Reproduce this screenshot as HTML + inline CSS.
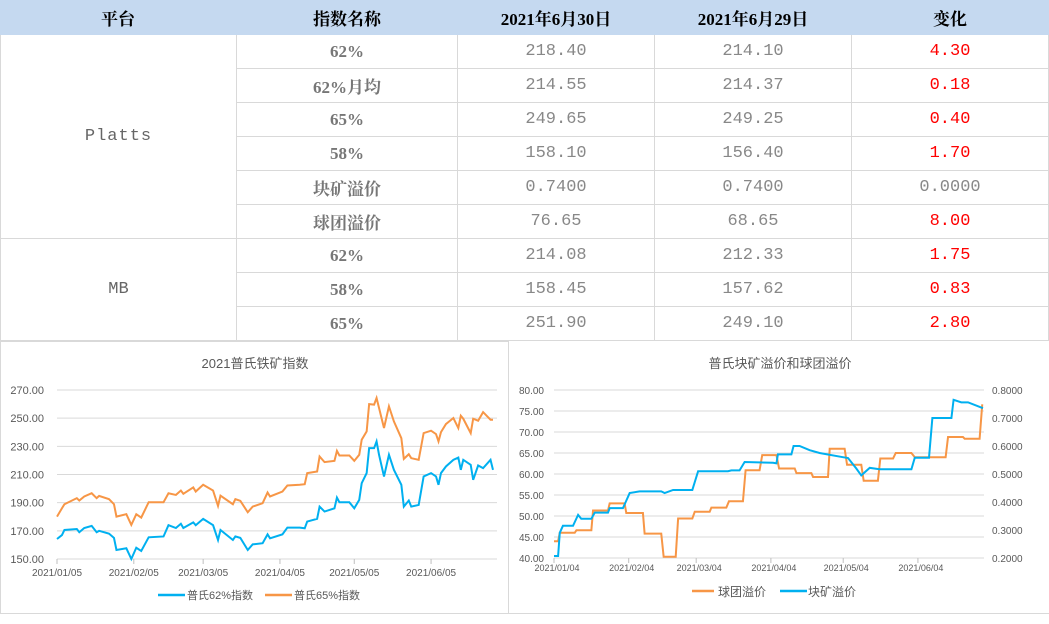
<!DOCTYPE html>
<html><head><meta charset="utf-8">
<style>
body{margin:0;width:1049px;height:624px;background:#fff;overflow:hidden;position:relative;font-family:"Liberation Serif","Noto Serif CJK SC",serif}
.c{position:absolute;box-sizing:border-box;border-right:1px solid #d9d9d9;border-bottom:1px solid #d9d9d9;display:flex;align-items:center;justify-content:center;font-size:17px}
.h{background:#c5d9f0;font-weight:bold;color:#000;border-color:#c5d9f0;font-family:"Liberation Serif","Noto Serif CJK SC",serif}
.n{color:#777;font-weight:bold}
.v{color:#888;font-family:"Liberation Mono","Noto Sans CJK SC",monospace;font-size:17px}
.r{color:#f00;font-family:"Liberation Mono","Noto Sans CJK SC",monospace;font-size:17px}
.p{color:#666;font-family:"Liberation Mono",monospace;font-size:17px}
svg{position:absolute;font-family:"Liberation Sans","Noto Sans CJK SC",sans-serif}
</style></head><body>
<div id="tbl"></div>
<svg id="ch1" style="left:0;top:341px" width="510" height="273"></svg>
<svg id="ch2" style="left:510px;top:341px" width="539" height="273"></svg>
<div style="position:absolute;left:0;top:613px;width:1049px;height:1px;background:#d9d9d9"></div>
<script>
const cols=[0,237,458,655,852,1049];
const head=["平台","指数名称","2021年6月30日","2021年6月29日","变化"];
const names=["62%","62%月均","65%","58%","块矿溢价","球团溢价","62%","58%","65%"];
const v30=["218.40","214.55","249.65","158.10","0.7400","76.65","214.08","158.45","251.90"];
const v29=["214.10","214.37","249.25","156.40","0.7400","68.65","212.33","157.62","249.10"];
const chg=["4.30","0.18","0.40","1.70","0.0000","8.00","1.75","0.83","2.80"];
const rowsY=[0,35,69,103,137,171,205,239,273,307,341];
const T=document.getElementById('tbl');
function cell(x,y,w,h,cls,txt,name){const d=document.createElement('div');d.className='c '+cls;d.style.left=x+'px';d.style.top=y+'px';d.style.width=w+'px';d.style.height=h+'px';d.textContent=txt;


T.appendChild(d);return d;}
head.forEach((t,i)=>cell(cols[i],0,cols[i+1]-cols[i],35,'h',t,'header-'+i));
const pl=cell(0,35,237,204,'p','Platts','platform-platts');pl.style.borderLeft='1px solid #d9d9d9';pl.style.letterSpacing='1px';
const mb=cell(0,239,237,102,'p','MB','platform-mb');mb.style.borderLeft='1px solid #d9d9d9';
for(let i=0;i<9;i++){const y=rowsY[i+1],h=rowsY[i+2]-y;
cell(237,y,221,h,'n',names[i],'index-name');
cell(458,y,197,h,'v',v30[i],'value-0630');
cell(655,y,197,h,'v',v29[i],'value-0629');
cell(852,y,197,h,chg[i]==="0.0000"?'v':'r',chg[i],'change-value');}
const NS='http://www.w3.org/2000/svg';
function el(svg,tag,attrs,txt){const e=document.createElementNS(NS,tag);for(const k in attrs)e.setAttribute(k,attrs[k]);if(txt!==undefined)e.textContent=txt;svg.appendChild(e);return e;}

// Chart 1 data
const days1=[0,2,3,8,9,11,14,16,17,21,23,24,28,30,32,34,37,43,45,48,50,51,55,56,59,63,65,66,71,72,74,77,79,83,85,86,91,93,98,100,101,105,106,108,112,113,114,118,120,122,123,125,126,128,129,130,132,134,136,139,140,142,143,146,148,151,153,154,155,157,160,162,163,164,167,168,170,172,175,176];
const s62=[164.2,167,170.6,171.3,169,172,173.5,169,170,168,165,156.4,157.6,150,158,155.7,165.4,166,174,172,175,172,176,174,178.5,174,163.5,170.6,163.5,166,165,156.4,160.4,161.2,167.5,164.7,167.5,172.3,172.3,171.8,176.6,178.5,187.2,183.7,186,193.6,190.3,190.3,186,192,203.8,211,228.7,228.7,233.5,224,208.6,224,213.3,202.7,187.2,191.5,187.2,188.4,208.6,211,208.6,202.7,211,215.7,220.4,222,213.3,220.4,216.9,206.2,216.4,214.5,220.4,213.3];
const s65=[180.1,186,188.9,193.2,191.5,194.4,196.7,193.2,194.8,192.5,188.9,180.1,181.8,174.2,181.8,179.4,190.3,190.3,196.7,195.5,198.6,196.3,200.8,197.9,202.7,198.6,187.7,195,188.9,192.5,191.3,183.2,187.2,189.6,197.2,194.4,197.9,202.2,202.7,203.1,211,212.1,222.8,218.8,219.7,226.8,223.5,223.5,219.7,224,234.7,240.6,260,259.6,264.3,257.2,243,258.4,247.7,235.8,221.1,224.4,221.6,220.4,239.4,241.1,238.7,233.5,240.1,245.8,250.1,243,251.7,249.6,239.4,249.6,248.2,254.3,248.9,248.9];
const ticks1=[150,170,190,210,230,250,270];
const dateLbl1=["2021/01/05","2021/02/05","2021/03/05","2021/04/05","2021/05/05","2021/06/05"];
const dateDay1=[0,31,59,90,120,151];
(function(){const S=document.getElementById('ch1');
el(S,'rect',{x:0.5,y:0.5,width:508,height:272,fill:'none',stroke:'#d9d9d9'});
const X=d=>57+d*436/176, Y=v=>218-(v-150)*169/120;
el(S,'text',{x:255,y:27,'text-anchor':'middle','font-size':13,fill:'#595959'},'2021普氏铁矿指数');
ticks1.forEach(t=>{const g=el(S,'line',{x1:57,x2:497,y1:Y(t),y2:Y(t),stroke:'#d9d9d9'});
const tx=el(S,'text',{x:44,y:Y(t)+4,'text-anchor':'end','font-size':11,fill:'#595959'},t.toFixed(2));});
dateDay1.forEach((d,i)=>{el(S,'line',{x1:X(d),x2:X(d),y1:Y(150),y2:Y(150)+5,stroke:'#bfbfbf'});
const tx=el(S,'text',{x:X(d),y:235,'text-anchor':'middle','font-size':10,fill:'#595959'},dateLbl1[i]);});
const p1=el(S,'polyline',{points:days1.map((d,i)=>X(d)+','+Y(s65[i])).join(' '),fill:'none',stroke:'#f79646','stroke-width':2});

const p2=el(S,'polyline',{points:days1.map((d,i)=>X(d)+','+Y(s62[i])).join(' '),fill:'none',stroke:'#00b0f0','stroke-width':2});

el(S,'line',{x1:158,x2:185,y1:254,y2:254,stroke:'#00b0f0','stroke-width':2.5});
el(S,'text',{x:187,y:258,'font-size':11,fill:'#595959'},'普氏62%指数');
el(S,'line',{x1:265,x2:292,y1:254,y2:254,stroke:'#f79646','stroke-width':2.5});
el(S,'text',{x:294,y:258,'font-size':11,fill:'#595959'},'普氏65%指数');
})();

// Chart 2 data
const pelletDays=[0,1.7,2.4,8.6,9.3,15.5,16.2,22.4,23.1,29.3,30,36.9,37.6,44.5,45.5,50.5,51.5,57.4,58.4,64.6,65.3,71.5,72.6,78.4,79.5,85.3,86.4,92.3,93.4,99.9,100.6,106.8,107.5,113.7,114.4,120.6,121.6,127.5,128.5,134.4,135.4,140.7,141.8,148.3,149.7,162.5,163.5,169.7,170.4,176.6,177.7];
const pelletVals=[44,44,46,46,46.6,46.6,51.3,51.3,53,53,50.7,50.7,45.8,45.8,40.3,40.3,49.4,49.4,51,51,52,52,53.5,53.5,60.9,60.9,64.5,64.5,61.3,61.3,60.2,60.2,59.3,59.3,66,66,62.2,62.2,58.4,58.4,63.7,63.7,65,65,64,64,68.8,68.8,68.4,68.4,76.6];
const lumpDays=[0,1.7,2.4,3.7,7.9,10,11.3,15.5,16.9,22.4,23.1,28.6,30,31.4,35.5,44.5,45.9,49.4,57.4,59.8,72.2,73.6,77,79.1,90.9,92.3,92.9,98.5,99.4,101.9,106.1,110.2,119.9,122,125.4,127.5,131,135.1,148.3,149.7,155.6,157,164.9,165.8,169,171.8,178];
const lumpVals=[0.207,0.207,0.29,0.315,0.315,0.354,0.34,0.34,0.362,0.362,0.378,0.378,0.405,0.432,0.438,0.438,0.432,0.443,0.443,0.51,0.51,0.513,0.513,0.543,0.54,0.538,0.57,0.57,0.6,0.6,0.585,0.575,0.56,0.557,0.52,0.495,0.522,0.517,0.517,0.558,0.558,0.7,0.7,0.765,0.756,0.756,0.735];
const ticksL=[40,45,50,55,60,65,70,75,80];
const ticksR=[0.2,0.3,0.4,0.5,0.6,0.7,0.8];
const dateLbl2=["2021/01/04","2021/02/04","2021/03/04","2021/04/04","2021/05/04","2021/06/04"];
const dateDay2=[0,31,59,90,120,151];
(function(){const S=document.getElementById('ch2');
const X=d=>44+d*2.41, YL=v=>217-(v-40)*168/40, YR=v=>217-(v-0.2)*168/0.6;
el(S,'text',{x:270,y:27,'text-anchor':'middle','font-size':13,fill:'#595959'},'普氏块矿溢价和球团溢价');
ticksL.forEach(t=>{const g=el(S,'line',{x1:44,x2:474,y1:YL(t),y2:YL(t),stroke:'#d9d9d9'});
const tx=el(S,'text',{x:34,y:YL(t)+4,'text-anchor':'end','font-size':10,fill:'#595959'},t.toFixed(2));});
ticksR.forEach(t=>{const tx=el(S,'text',{x:482,y:YR(t)+4,'font-size':10,fill:'#595959'},t.toFixed(4));});
dateDay2.forEach((d,i)=>{el(S,'line',{x1:X(d),x2:X(d),y1:217,y2:222,stroke:'#bfbfbf'});
const tx=el(S,'text',{x:X(d)+3,y:230,'text-anchor':'middle','font-size':9,fill:'#595959'},dateLbl2[i]);});
const p1=el(S,'polyline',{points:pelletDays.map((d,i)=>X(d)+','+YL(pelletVals[i])).join(' '),fill:'none',stroke:'#f79646','stroke-width':2});

const p2=el(S,'polyline',{points:lumpDays.map((d,i)=>X(d)+','+YR(lumpVals[i])).join(' '),fill:'none',stroke:'#00b0f0','stroke-width':2});

el(S,'line',{x1:182,x2:204,y1:250,y2:250,stroke:'#f79646','stroke-width':2.5});
el(S,'text',{x:208,y:255,'font-size':12,fill:'#595959'},'球团溢价');
el(S,'line',{x1:270,x2:297,y1:250,y2:250,stroke:'#00b0f0','stroke-width':2.5});
el(S,'text',{x:298,y:255,'font-size':12,fill:'#595959'},'块矿溢价');
})();
</script>
</body></html>
